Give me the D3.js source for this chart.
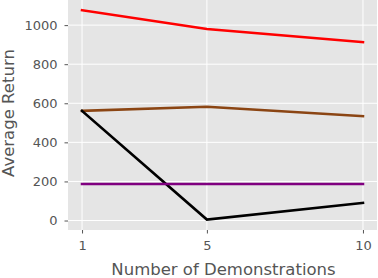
<!DOCTYPE html>
<html>
<head>
<meta charset="utf-8">
<script src="https://cdn.jsdelivr.net/npm/d3@7"></script>
<style>
    body { margin: 0; background: #fff; }
    svg { display: block; font-family: "DejaVu Sans", sans-serif; }
</style>
</head>
<body>
<div id="chart"></div>
<script>
// values
const demos = [1, 5, 10];
const xTicks = [1, 5, 10];
const yTicks = [0, 200, 400, 600, 800, 1000];
const redValues = [1076, 980, 913];
const brownValues = [561, 582, 534];
const blackValues = [561, 5, 90];
const purpleValues = [187, 187, 187];

const series = [
    {values: redValues, color: '#ff0000'},
    {values: brownValues, color: '#8b4513'},
    {values: blackValues, color: '#000000'},
    {values: purpleValues, color: '#800080'}
];

const width = 378;
const height = 278;
const margins = {top: 0, right: 1, bottom: 48, left: 68};

const svg = d3.select('#chart')
    .append('svg')
    .attr('width', width)
    .attr('height', height);

const graphWidth = width - (margins.left + margins.right);
const graphHeight = height - (margins.top + margins.bottom);

const xScale = d3.scaleLinear()
    .domain([0.55, 10.45])
    .range([0, graphWidth]);

const yScale = d3.scaleLinear()
    .domain([-48.5, 1128.5])
    .range([graphHeight, 0]);

const graph = svg.append('g')
    .attr('transform', `translate(${margins.left}, ${margins.top})`);

graph.append('rect')
    .attr('width', graphWidth)
    .attr('height', graphHeight)
    .attr('fill', '#e5e5e5');

graph.selectAll('.vgrid')
    .data(xTicks)
    .enter()
    .append('line')
    .attr('x1', d => xScale(d))
    .attr('x2', d => xScale(d))
    .attr('y1', 0)
    .attr('y2', graphHeight)
    .attr('stroke', '#fff')
    .attr('stroke-width', 1);

graph.selectAll('.hgrid')
    .data(yTicks)
    .enter()
    .append('line')
    .attr('x1', 0)
    .attr('x2', graphWidth)
    .attr('y1', d => yScale(d))
    .attr('y2', d => yScale(d))
    .attr('stroke', '#fff')
    .attr('stroke-width', 1);

const line = d3.line()
    .x((v, i) => xScale(demos[i]))
    .y(v => yScale(v));

series.forEach(s => {
    graph.append('path')
        .attr('d', line(s.values))
        .attr('fill', 'none')
        .attr('stroke', s.color)
        .attr('stroke-width', 2.6)
        .attr('stroke-linecap', 'square');
});

const xAxis = svg.append('g')
    .attr('transform', `translate(${margins.left}, ${margins.top + graphHeight})`)
    .call(d3.axisBottom(xScale).tickValues(xTicks).tickFormat(d3.format('d'))
        .tickSize(3.5).tickPadding(7).tickSizeOuter(0));

const yAxis = svg.append('g')
    .attr('transform', `translate(${margins.left}, ${margins.top})`)
    .call(d3.axisLeft(yScale).tickValues(yTicks).tickFormat(d3.format('d'))
        .tickSize(3.5).tickPadding(7).tickSizeOuter(0));

[xAxis, yAxis].forEach(ax => {
    ax.select('.domain').remove();
    ax.selectAll('line').attr('stroke', '#555');
    ax.selectAll('text')
        .attr('fill', '#555')
        .style('font-size', '13px')
        .style('font-family', '"DejaVu Sans", sans-serif');
});

svg.append('text')
    .attr('x', margins.left + graphWidth / 2 + 1)
    .attr('y', 275)
    .attr('text-anchor', 'middle')
    .attr('fill', '#555')
    .style('font-size', '16.5px')
    .text('Number of Demonstrations');

svg.append('text')
    .attr('transform', `translate(14, ${yScale(550)}) rotate(-90)`)
    .attr('text-anchor', 'middle')
    .attr('fill', '#555')
    .style('font-size', '16.5px')
    .text('Average Return');
</script>
</body>
</html>
